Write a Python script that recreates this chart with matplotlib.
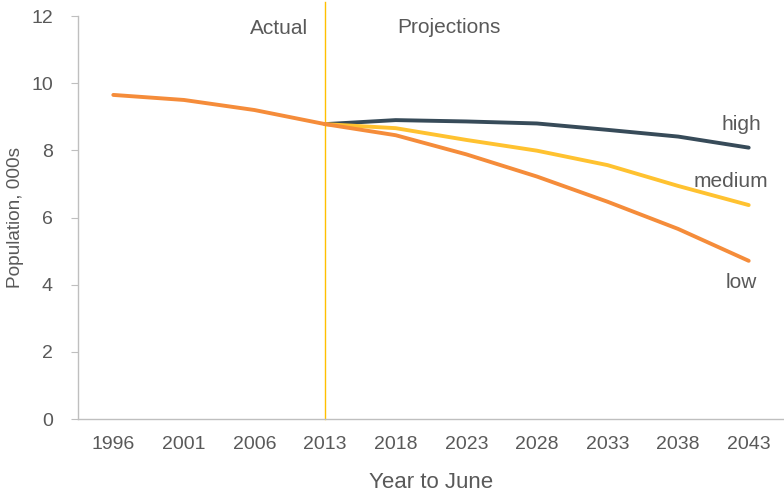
import numpy as np
import matplotlib.pyplot as plt

plt.rcParams['font.family'] = ['Liberation Sans', 'DejaVu Sans']

# 数据
years = ['1996', '2001', '2006', '2013', '2018', '2023', '2028', '2033', '2038', '2043']
actual = [9.65, 9.5, 9.2, 8.78]
high = [8.78, 8.9, 8.86, 8.8, 8.61, 8.41, 8.08]
medium = [8.78, 8.66, 8.31, 7.99, 7.56, 6.94, 6.37]
low = [8.78, 8.45, 7.88, 7.22, 6.47, 5.66, 4.71]

c_text = '#595959'
c_high = '#374B59'
c_med = '#FFC230'
c_low = '#F58C3A'

fig = plt.figure(figsize=(7.84, 4.98), dpi=100)
ax = fig.add_axes([78 / 784, 79 / 498, 706 / 784, 403 / 498])

x = np.arange(len(years))
proj_x = x[3:]

# 实际/预测分界线
ax.axvline(3, ymin=0, ymax=1.034, color='#FFC000', linewidth=1.0, clip_on=False, zorder=1)
ax.plot(proj_x, high, color=c_high, linewidth=2.8, solid_capstyle='round', zorder=3)
ax.plot(proj_x, medium, color=c_med, linewidth=2.8, solid_capstyle='round', zorder=3)
ax.plot(proj_x, low, color=c_low, linewidth=2.8, solid_capstyle='round', zorder=3)
ax.plot(x[:4], actual, color=c_low, linewidth=2.8, solid_capstyle='round', zorder=4)

ax.set_xlim(-0.5, 9.5)
ax.set_ylim(0, 12)
ax.set_xticks(x)
ax.set_xticklabels(years)
ax.set_yticks(np.arange(0, 13, 2))

for side in ['top', 'right']:
    ax.spines[side].set_visible(False)
for side in ['left', 'bottom']:
    ax.spines[side].set_color('#BFBFBF')
    ax.spines[side].set_linewidth(1.0)

ax.tick_params(axis='x', length=0, pad=12, labelsize=14, labelcolor=c_text)
ax.tick_params(axis='y', length=5, color='#BFBFBF', pad=13, labelsize=14, labelcolor=c_text)

ax.set_xlabel('Year to June', fontsize=16, color=c_text, labelpad=14)
ax.set_ylabel('Population, 000s', fontsize=13.7, color=c_text, labelpad=5)

ax.text(2.35, 11.62, 'Actual', fontsize=15, color=c_text, ha='center', va='center')
ax.text(4.75, 11.65, 'Projections', fontsize=15, color=c_text, ha='center', va='center')
ax.text(8.9, 8.78, 'high', fontsize=15, color=c_text, ha='center', va='center')
ax.text(8.75, 7.08, 'medium', fontsize=15, color=c_text, ha='center', va='center')
ax.text(8.9, 4.05, 'low', fontsize=15, color=c_text, ha='center', va='center')

fig.savefig('out.png', dpi=100)
